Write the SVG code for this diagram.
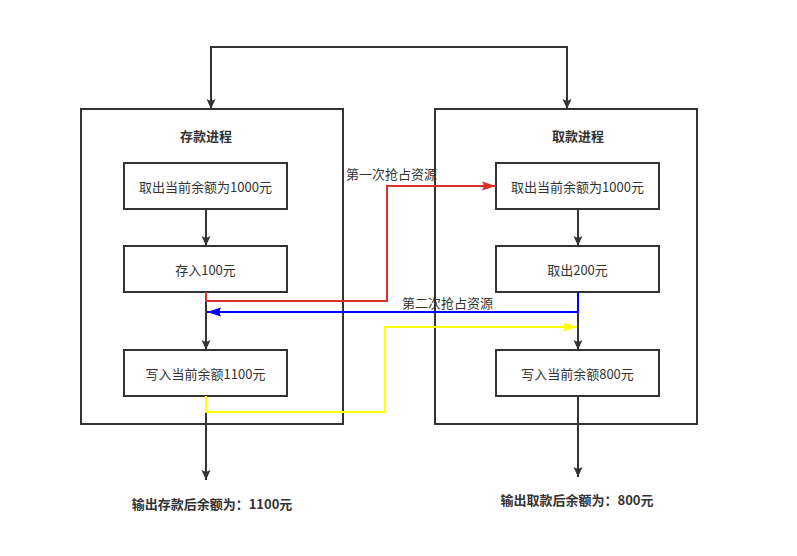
<svg xmlns="http://www.w3.org/2000/svg" width="797" height="556" viewBox="0 0 797 556">
<style>
.box{fill:#fff;stroke:#333;stroke-width:2}
.t{font-family:"Noto Sans CJK SC","Liberation Sans",sans-serif;font-size:13px;fill:#333;text-anchor:middle;dominant-baseline:central}
.b{font-weight:bold}
.lbl{font-family:"Noto Sans CJK SC","Liberation Sans",sans-serif;font-size:13px;fill:#333;dominant-baseline:central}
.c{fill:none;stroke-width:2}
</style>
<defs>
<marker id="ak" markerWidth="10" markerHeight="10" viewBox="0 0 10 10" refX="10" refY="5" orient="auto" markerUnits="userSpaceOnUse"><path d="M0,0.5 L10,5 L0,9.5 L2,5 Z" fill="#333"/></marker>
<marker id="ar" markerWidth="14" markerHeight="10" viewBox="0 0 14 10" refX="14" refY="5" orient="auto" markerUnits="userSpaceOnUse"><path d="M0,0.5 L14,5 L0,9.5 L2,5 Z" fill="#d9302b"/></marker>
<marker id="ab" markerWidth="14" markerHeight="10" viewBox="0 0 14 10" refX="14" refY="5" orient="auto" markerUnits="userSpaceOnUse"><path d="M0,0.5 L14,5 L0,9.5 L2,5 Z" fill="#0000ff"/></marker>
<marker id="ay" markerWidth="14" markerHeight="10" viewBox="0 0 14 10" refX="14" refY="5" orient="auto" markerUnits="userSpaceOnUse"><path d="M0,0.5 L14,5 L0,9.5 L2,5 Z" fill="#ffff00"/></marker>
</defs>
<g id="deposit-process">
<rect class="box" x="81" y="109" width="262" height="315"/>
<text class="t b" x="206" y="135">存款进程</text>
</g>
<g id="withdraw-process">
<rect class="box" x="435" y="109" width="262" height="315"/>
<text class="t b" x="578" y="135">取款进程</text>
</g>
<g id="d1"><rect class="box" x="124" y="163" width="163" height="46"/><text class="t" x="205.5" y="186">取出当前余额为1000元</text></g>
<g id="d2"><rect class="box" x="124" y="246" width="163" height="46"/><text class="t" x="205.5" y="269">存入100元</text></g>
<g id="d3"><rect class="box" x="124" y="350" width="163" height="46"/><text class="t" x="205.5" y="373">写入当前余额1100元</text></g>
<g id="w1"><rect class="box" x="496" y="163" width="163" height="46"/><text class="t" x="577.5" y="186">取出当前余额为1000元</text></g>
<g id="w2"><rect class="box" x="496" y="246" width="163" height="46"/><text class="t" x="577.5" y="269">取出200元</text></g>
<g id="w3"><rect class="box" x="496" y="350" width="163" height="46"/><text class="t" x="577.5" y="373">写入当前余额800元</text></g>
<g id="out-d"><text class="t b" x="212" y="503">输出存款后余额为：1100元</text></g>
<g id="out-w"><text class="t b" x="577" y="499">输出取款后余额为：800元</text></g>
<g id="connectors">
<path class="c" stroke="#333" d="M389,47 H211 V109" marker-end="url(#ak)"/>
<path class="c" stroke="#333" d="M389,47 H567 V109" marker-end="url(#ak)"/>
<path class="c" stroke="#333" d="M206,209 V246" marker-end="url(#ak)"/>
<path class="c" stroke="#333" d="M206,292 V350" marker-end="url(#ak)"/>
<path class="c" stroke="#333" d="M206,396 V480" marker-end="url(#ak)"/>
<path class="c" stroke="#333" d="M578,209 V246" marker-end="url(#ak)"/>
<path class="c" stroke="#333" d="M578,292 V350" marker-end="url(#ak)"/>
<path class="c" stroke="#333" d="M578,396 V477" marker-end="url(#ak)"/>
<path class="c" stroke="#d9302b" d="M206,292 V301 H387 V186 H496" marker-end="url(#ar)"/>
<path class="c" stroke="#0000ff" d="M578,292 V312 H207" marker-end="url(#ab)"/>
<path class="c" stroke="#ffff00" d="M206,396 V412 H385 V327 H577" marker-end="url(#ay)"/>
<text class="lbl" x="346" y="173">第一次抢占资源</text>
<text class="lbl" x="402" y="302">第二次抢占资源</text>
</g>
</svg>
